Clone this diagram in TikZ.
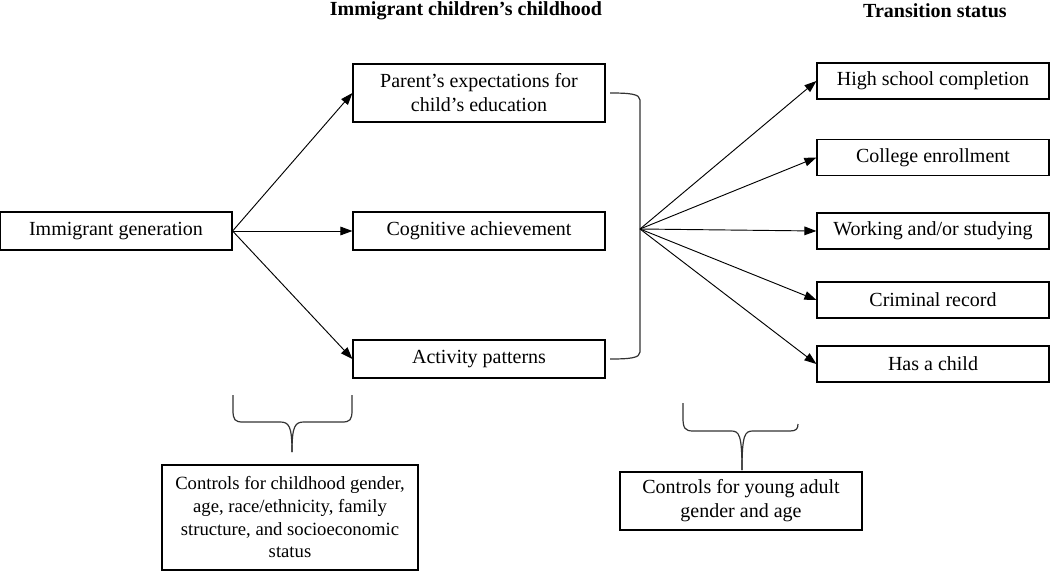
\documentclass[tikz,border=0pt]{standalone}
\usepackage{fontspec}
\setmainfont{Liberation Serif}
\usetikzlibrary{arrows.meta}
\begin{document}
\begin{tikzpicture}[x=0.75pt,y=-0.75pt,
  every node/.style={font=\fontsize{15}{18}\selectfont},
  box/.style={draw,line width=0.9pt,inner sep=0pt,align=center},
  lbox/.style={box,minimum width=252*0.75pt},
  rbox/.style={box,minimum width=232*0.75pt,minimum height=36*0.75pt},
  head/.style={font=\fontsize{15}{18}\selectfont\bfseries},
  arr/.style={line width=0.7pt,-{Triangle[length=9pt,width=6.5pt]}},
  brace/.style={line width=0.9pt,draw=black!80}]
\useasboundingbox (0,0) rectangle (1050,571);
\node[head] (h1) at (466,11) {Immigrant children’s childhood};
\node[head] (h2) at (935,11) {Transition status};
\node[box,minimum width=232*0.75pt,minimum height=38*0.75pt] (ig) at (116,231) {Immigrant generation};
\node[lbox,minimum height=58*0.75pt] (pe) at (479,93) {Parent’s expectations for\\child’s education};
\node[lbox,minimum height=38*0.75pt] (ca) at (479,231) {Cognitive achievement};
\node[lbox,minimum height=38*0.75pt] (ap) at (479,359) {Activity patterns};
\node[rbox] (hs) at (933,81) {High school completion};
\node[rbox] (ce) at (933,157.5) {College enrollment};
\node[rbox] (ws) at (933,231) {Working and/or studying};
\node[rbox] (cr) at (933,300) {Criminal record};
\node[rbox] (hc) at (933,364) {Has a child};
\node[box,minimum width=256*0.75pt,minimum height=105*0.75pt,font=\fontsize{14}{17}\selectfont] (c1) at (290,517.5) {Controls for childhood gender,\\age, race/ethnicity, family\\structure, and socioeconomic\\status};
\node[box,minimum width=242*0.75pt,minimum height=58*0.75pt,font=\fontsize{15}{18}\selectfont] (c2) at (741,501) {Controls for young adult\\gender and age};
% arrows from immigrant generation
\draw[arr] (ig.east) -- (pe.west);
\draw[arr] (ig.east) -- (ca.west);
\draw[arr] (ig.east) -- (ap.west);
% right bracket
\coordinate (hub) at (640,229);
\draw[brace] (610,93) .. controls (630,93) and (640,94) .. (640,100) -- (640,352) .. controls (640,358) and (630,359) .. (610,359);
\draw[arr] (hub) -- (hs.west);
\draw[arr] (hub) -- (ce.west);
\draw[arr] (hub) -- (ws.west);
\draw[arr] (hub) -- (cr.west);
\draw[arr] (hub) -- (hc.west);
% bottom braces
\draw[brace] (233,395) -- (233,410) .. controls (233,420) and (235,422) .. (243,422) -- (280,422) .. controls (289,422) and (292,426) .. (292,452);
\draw[brace] (292,452) .. controls (292,426) and (295,422) .. (304,422) -- (342,422) .. controls (350,422) and (352,420) .. (352,410) -- (352,395);
\draw[brace] (683,403) -- (683,418) .. controls (683,428) and (685,431) .. (693,431) -- (731,431) .. controls (739,431) and (742,434) .. (742,470);
\draw[brace] (742,470) .. controls (742,434) and (745,431) .. (753,431) -- (790,431) .. controls (796,431) and (798,429) .. (798,424);
\end{tikzpicture}
\end{document}
